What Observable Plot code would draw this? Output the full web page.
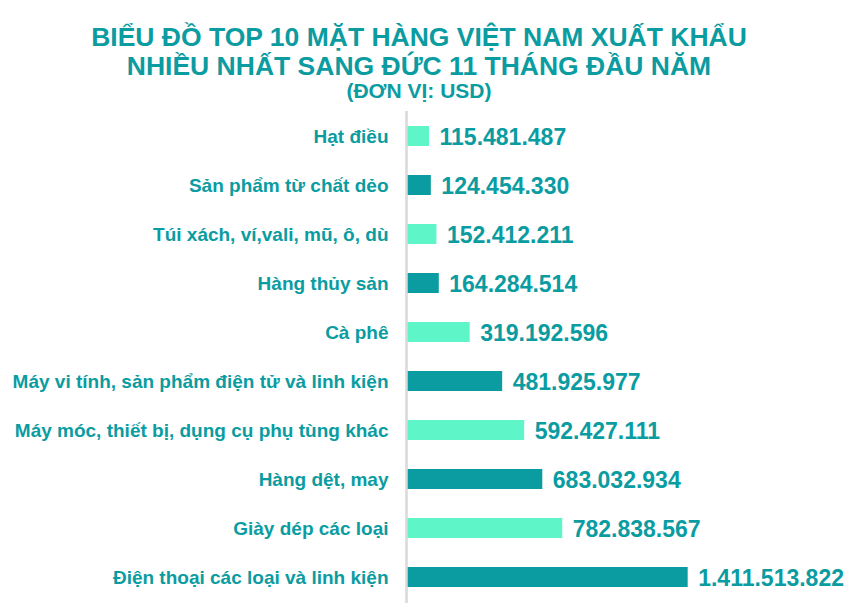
<!DOCTYPE html>
<html>
<head>
<meta charset="utf-8">
<script src="https://cdn.jsdelivr.net/npm/d3@7"></script>
<script src="https://cdn.jsdelivr.net/npm/@observablehq/plot@0.6"></script>
<style>
  html, body { margin: 0; padding: 0; background: #fff; }
  body { width: 853px; height: 614px; overflow: hidden; font-family: "Liberation Sans", Arial, sans-serif; }
  #title { height: 105px; box-sizing: border-box; padding-top: 23px; padding-right: 15px; text-align: center; color: #0b9ca1; font-weight: bold; white-space: nowrap; }
  #title .t { font-size: 26.5px; line-height: 29px; height: 29px; }
  #title .s { font-size: 21px; line-height: 20px; height: 20px; margin-top: 0px; }
</style>
</head>
<body>
<div id="title">
  <div class="t">BIỂU ĐỒ TOP 10 MẶT HÀNG VIỆT NAM XUẤT KHẨU</div>
  <div class="t">NHIỀU NHẤT SANG ĐỨC 11 THÁNG ĐẦU NĂM</div>
  <div class="s">(ĐƠN VỊ: USD)</div>
</div>
<div id="chart"></div>
<script>
const categories = [
  "Hạt điều",
  "Sản phẩm từ chất dẻo",
  "Túi xách, ví,vali, mũ, ô, dù",
  "Hàng thủy sản",
  "Cà phê",
  "Máy vi tính, sản phẩm điện tử và linh kiện",
  "Máy móc, thiết bị, dụng cụ phụ tùng khác",
  "Hàng dệt, may",
  "Giày dép các loại",
  "Điện thoại các loại và linh kiện"
];
const values = [
  115481487, 124454330, 152412211, 164284514, 319192596,
  481925977, 592427111, 683032934, 782838567, 1411513822
];

const teal = "#0a9ca1";
const mint = "#5ef5c8";
const locale = d3.formatLocale({decimal: ",", thousands: ".", grouping: [3], currency: ["", ""]});
const fmt = locale.format(",d");

const data = categories.map((c, i) => ({category: c, value: values[i], color: i % 2 === 0 ? mint : teal}));

const chart = Plot.plot({
  width: 853,
  height: 509,
  marginTop: 6,
  marginBottom: 11,
  marginLeft: 406,
  marginRight: 0,
  style: {fontFamily: '"Liberation Sans", Arial, sans-serif', background: "#fff"},
  x: {domain: [0, 2.24e9], axis: null},
  y: {domain: categories, paddingInner: 0.59, paddingOuter: 0.295, label: null},
  marks: [
    Plot.barX(data, {x: "value", y: "category", fill: d => d.color}),
    Plot.text(data, {x: "value", y: "category", text: d => fmt(d.value), textAnchor: "start", dx: 10, dy: 1, fontSize: 23, fontWeight: "bold", fill: teal}),
    Plot.axisY({tickSize: 0, tickPadding: 18, fontSize: 19, fontWeight: "bold", fill: teal, label: null}),
    Plot.ruleX([0], {stroke: "#d9d9d9", strokeWidth: 2.5})
  ]
});
document.getElementById("chart").appendChild(chart);
</script>
</body>
</html>
